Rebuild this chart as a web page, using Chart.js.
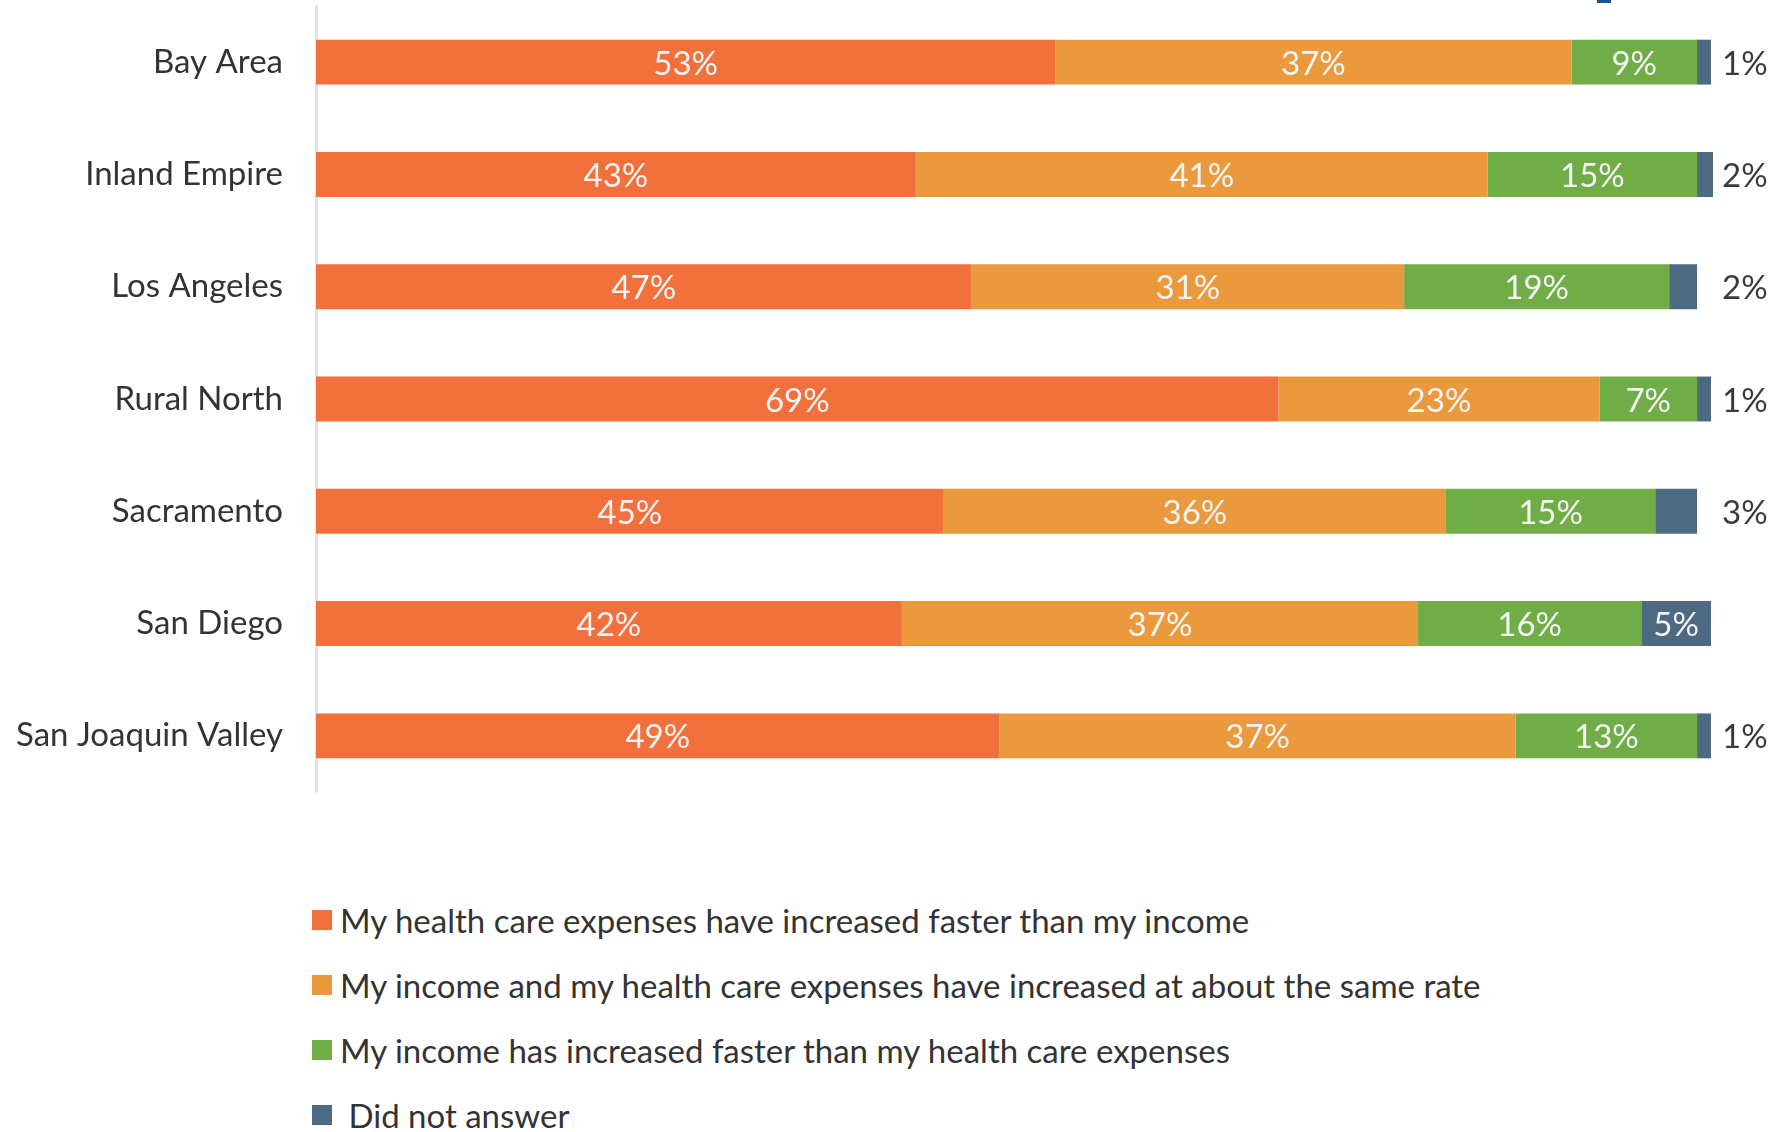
<!DOCTYPE html>
<html>
<head>
<meta charset="utf-8">
<script src="https://cdn.jsdelivr.net/npm/chart.js@4.4.1/dist/chart.umd.min.js"></script>
<style>
  html, body { margin: 0; padding: 0; background: #fff; }
  body { width: 1780px; height: 1132px; position: relative; overflow: hidden; font-family: Lato, sans-serif; }
  #wrap { position: absolute; left: 0; top: 0; width: 1780px; height: 800px; }
  #legend { position: absolute; left: 312px; top: 887px; margin: 0; padding: 0; list-style: none; }
  #legend li { height: 65px; display: flex; align-items: center; font-size: 33px; color: #333; white-space: pre; }
  #legend span.box { width: 20px; height: 20px; margin-right: 8px; flex: none; }
  #corner { position: absolute; left: 1597px; top: 0; width: 14px; height: 3px; background: #1f4e9a; }
</style>
</head>
<body>
<div id="corner"></div>
<div id="wrap"><canvas id="regionChart" width="1780" height="800"></canvas></div>
<ul id="legend"></ul>
<script>
  const regions = ['Bay Area', 'Inland Empire', 'Los Angeles', 'Rural North', 'Sacramento', 'San Diego', 'San Joaquin Valley']
  const fasterExpenses = [53, 43, 47, 69, 45, 42, 49]
  const sameRate = [37, 41, 31, 23, 36, 37, 37]
  const fasterIncome = [9, 15, 19, 7, 15, 16, 13]
  const noAnswer = [1, 2, 2, 1, 3, 5, 1]

  const seriesNames = [
    'My health care expenses have increased faster than my income',
    'My income and my health care expenses have increased at about the same rate',
    'My income has increased faster than my health care expenses',
    ' Did not answer'
  ]
  const colors = ['#f2703c', '#ea9a3c', '#70ad47', '#4e6a82']

  const FONT = 'Lato, sans-serif'

  // percentages inside each segment, small ones go in a column right of the plot
  const segmentLabels = {
    id: 'segmentLabels',
    afterDatasetsDraw(chart) {
      const { ctx, chartArea } = chart
      ctx.save()
      ctx.font = '33px ' + FONT
      ctx.textBaseline = 'middle'
      chart.data.datasets.forEach((ds, di) => {
        const meta = chart.getDatasetMeta(di)
        meta.data.forEach((bar, i) => {
          const v = ds.data[i]
          if (v >= 4) {
            ctx.fillStyle = '#f4f4f4'
            ctx.textAlign = 'center'
            ctx.fillText(v + '%', (bar.base + bar.x) / 2, bar.y + 2)
          } else {
            ctx.fillStyle = '#3a3a3a'
            ctx.textAlign = 'left'
            ctx.fillText(v + '%', chartArea.right + 11, bar.y + 2)
          }
        })
      })
      ctx.restore()
    }
  }

  const chart = new Chart(document.getElementById('regionChart'), {
    type: 'bar',
    data: {
      labels: regions,
      datasets: [fasterExpenses, sameRate, fasterIncome, noAnswer].map((data, i) => ({
        label: seriesNames[i],
        data: data,
        backgroundColor: colors[i],
        borderWidth: 0,
        barPercentage: 0.4,
        categoryPercentage: 1,
        clip: 2
      }))
    },
    options: {
      indexAxis: 'y',
      responsive: false,
      animation: false,
      layout: { padding: { top: 6, right: 69, bottom: 8, left: 0 } },
      scales: {
        x: { stacked: true, min: 0, max: 100, display: false },
        y: {
          stacked: true,
          grid: { display: false, drawTicks: false },
          border: { display: true, color: '#e2e2e2', width: 3 },
          ticks: { padding: 33, color: '#333', font: { family: FONT, size: 33 } },
          afterFit: (scale) => {
            // fixed axis width; the label gap should not pad the top/bottom
            scale.width = 316
            scale.paddingTop = 0
            scale.paddingBottom = 0
          }
        }
      },
      plugins: {
        legend: { display: false },
        tooltip: { enabled: false }
      }
    },
    plugins: [segmentLabels]
  })

  // legend as a plain vertical list
  const legendEl = document.getElementById('legend')
  chart.data.datasets.forEach((ds) => {
    const li = document.createElement('li')
    const box = document.createElement('span')
    box.className = 'box'
    box.style.background = ds.backgroundColor
    li.appendChild(box)
    li.appendChild(document.createTextNode(ds.label))
    legendEl.appendChild(li)
  })
</script>
</body>
</html>
